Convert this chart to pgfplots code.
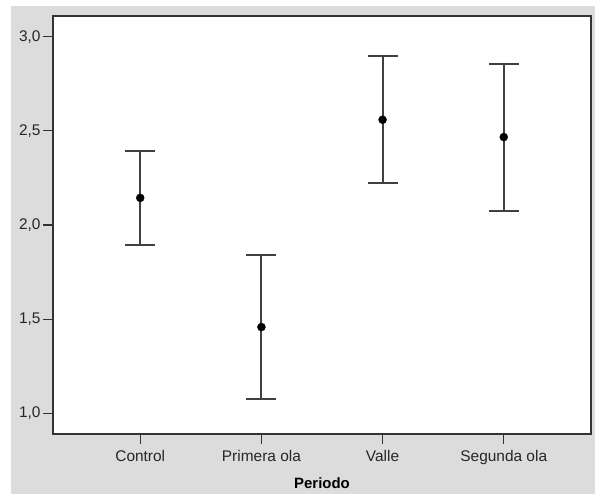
\documentclass[border=0pt]{standalone}
\usepackage{fontspec}
\setmainfont{Liberation Sans}
\usepackage{pgfplots}
\pgfplotsset{compat=1.18}
\usepackage{pgfplotstable}
\definecolor{bggray}{HTML}{DCDCDC}
\definecolor{linegray}{HTML}{404040}
\pgfplotstableread{
x y ep em
0 2.144 0.250 0.248
1 1.458 0.383 0.382
2 2.559 0.338 0.336
3 2.467 0.390 0.391
}\datatab
\begin{document}
\begin{tikzpicture}
\fill[white] (-53bp,-60bp) rectangle (542bp,434bp);
\fill[bggray] (-42bp,-60bp) rectangle (542bp,428bp);
\begin{axis}[
  at={(0,0)}, anchor=south west,
  scale only axis,
  width=538bp, height=418bp,
  xmin=-0.72, xmax=3.72,
  ymin=0.89, ymax=3.11,
  axis background/.style={fill=white},
  axis line style={draw=black!80, line width=1.2bp},
  xtick={0,1,2,3},
  xticklabels={Control, Primera ola, Valle, Segunda ola},
  ytick={1,1.5,2,2.5,3},
  tick align=outside,
  tick pos=left,
  major tick length=10bp,
  tick style={draw=black!80, line width=1.2bp},
  /pgf/number format/.cd, use comma, fixed, fixed zerofill, precision=1, assume math mode=true,
  /pgfplots/.cd,
  tick label style={font=\fontsize{15.5}{18}\selectfont, text=black!85},
  xticklabel style={yshift=-3bp},
  yticklabel style={xshift=1bp},
  xlabel={\textbf{Periodo}},
  xlabel style={font=\fontsize{15}{18}\selectfont, yshift=-6bp},
  clip=false,
]
\addplot[draw=none, mark=none,
  error bars/.cd, y dir=both, y explicit,
  error bar style={draw=linegray, line width=2bp},
  error mark options={draw=linegray, line width=2bp, mark size=15bp, rotate=90}]
  table[x=x, y=y, y error plus=ep, y error minus=em] {\datatab};
\addplot[only marks, mark=*, mark size=4bp, mark options={fill=black, draw=black}]
  table[x=x, y=y] {\datatab};
\end{axis}
\end{tikzpicture}
\end{document}
